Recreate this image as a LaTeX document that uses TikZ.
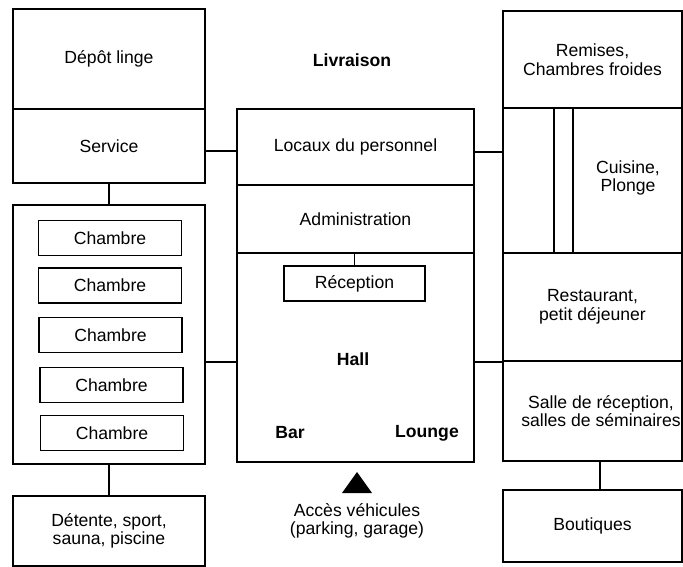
\documentclass[tikz,border=0pt]{standalone}
\usepackage{fontspec}
\setmainfont{Liberation Sans}
\begin{document}
\begin{tikzpicture}[x=1pt,y=-1pt,
  every node/.style={font=\fontsize{17.6}{18.5}\selectfont, align=center, inner sep=0pt},
  box/.style={draw, line width=1.6pt, rectangle, minimum width=#1},
  conn/.style={line width=1.6pt},
  bold/.style={font=\fontsize{17.6}{18.5}\selectfont\bfseries}]
\useasboundingbox (0,0) rectangle (683,567);
% left column
\node[box=192, minimum height=100] (depot) at (109,59) {D\'ep\^ot linge};
\node[box=192, minimum height=74] (service) at (109,146) {Service};
\node[box=192, minimum height=259] (chambres) at (109,334.5) {};
\node[box=143, minimum height=35, line width=1.3pt] (ch1) at (110,238) {Chambre};
\node[box=143, minimum height=35, line width=1.3pt] (ch2) at (110,285.5) {Chambre};
\node[box=143, minimum height=35, line width=1.3pt] (ch3) at (110.5,335) {Chambre};
\node[box=143, minimum height=35, line width=1.3pt] (ch4) at (111.5,385) {Chambre};
\node[box=143, minimum height=35, line width=1.3pt] (ch5) at (112,433) {Chambre};
\node[box=192, minimum height=70] (detente) at (109,531) {D\'etente, sport,\\sauna, piscine};
% centre column
\node[bold] (livraison) at (352,60) {Livraison};
\node[box=237, minimum height=76] (locaux) at (355.5,147) {Locaux du personnel};
\node[box=237, minimum height=68] (admin) at (355.5,219) {Administration};
\node[box=237, minimum height=209] (hall) at (355.5,357.5) {};
\node[box=141, minimum height=35, line width=1.3pt] (reception) at (354.5,283.5) {R\'eception};
\node[bold] (halltxt) at (353,359) {Hall};
\node[bold] (bar) at (290,433) {Bar};
\node[bold] (lounge) at (427,433) {Lounge};
\coordinate (apex) at (357,472);
\coordinate (bl) at (342,493);
\coordinate (br) at (372,493);
\fill (apex) -- (br) -- (bl) -- cycle;
\node (acces) at (357,521) {Acc\`es v\'ehicules\\(parking, garage)};
% right column
\node[box=179, minimum height=97] (remises) at (592.5,59.5) {Remises,\\Chambres froides};
\node[box=179, minimum height=145] (cuisine) at (592.5,180.5) {};
\node (cuisinetxt) at (628,178) {Cuisine,\\Plonge};
\draw[conn] ([xshift=52pt]cuisine.north west) -- ([xshift=52pt]cuisine.south west);
\draw[conn] ([xshift=71pt]cuisine.north west) -- ([xshift=71pt]cuisine.south west);
\node[box=179, minimum height=108] (restaurant) at (592.5,307) {Restaurant,\\petit d\'ejeuner};
\node[box=179, minimum height=100] (salle) at (592.5,411) {};
\node (salletxt) at (601,411) {Salle de r\'eception,\\salles de s\'eminaires};
\node[box=179, minimum height=72] (boutiques) at (592.5,526) {Boutiques};
% connectors
\draw[conn] (service.south) -- (chambres.north);
\draw[conn] (chambres.south) -- (detente.north);
\draw[conn] ([yshift=-5pt]service.east) -- ([yshift=-5pt]service.east -| locaux.west);
\draw[conn] ([yshift=-5pt]locaux.east) -- ([yshift=-5pt]locaux.east -| cuisine.west);
\draw[conn] ([yshift=-4.5pt]hall.west -| chambres.east) -- ([yshift=-4.5pt]hall.west);
\draw[conn] ([yshift=-4.5pt]hall.east) -- ([yshift=-4.5pt]hall.east -| salle.west);
\draw[conn] (admin.south -| reception.north) -- (reception.north);
\draw[conn] ([xshift=7.5pt]salle.south) -- ([xshift=7.5pt]boutiques.north);
\end{tikzpicture}
\end{document}
